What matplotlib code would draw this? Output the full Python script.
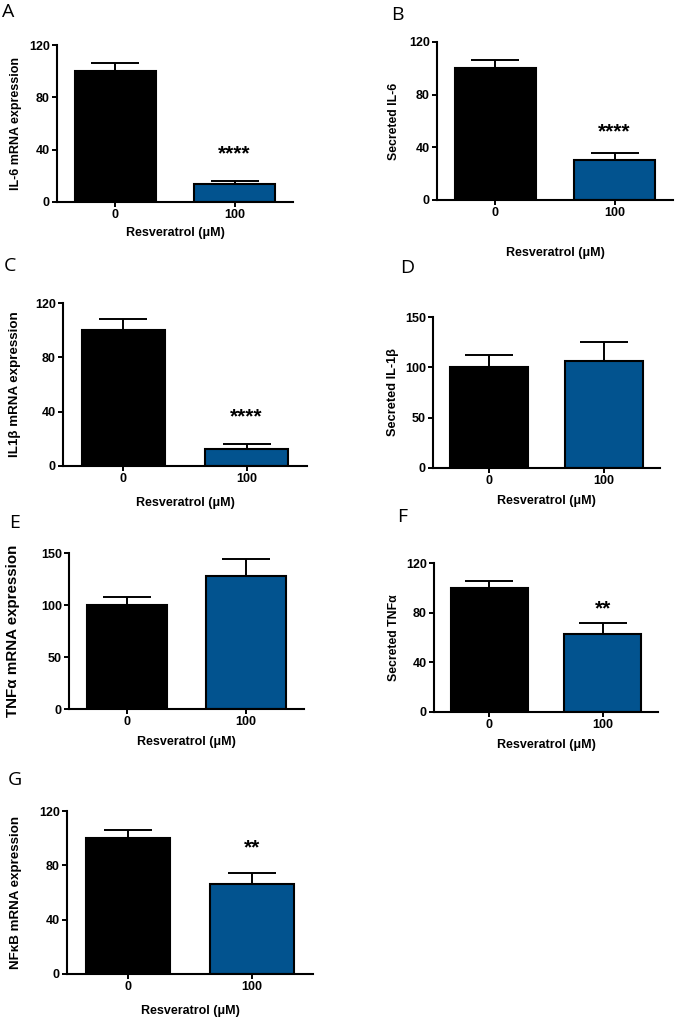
import matplotlib.pyplot as plt

# ------------------------------------------------------------
# Resveratrol effect on cytokine expression / secretion
# seven bar panels, GraphPad-like style
# ------------------------------------------------------------

plt.rcParams["font.family"] = ["Liberation Sans", "DejaVu Sans"]

FIG_W, FIG_H = 675, 1017

DOSES = ["0", "100"]
BAR_COLORS = ["#000000", "#02538f"]

PANEL_LETTERS = ["A", "B", "C", "D", "E", "F", "G"]
Y_LABELS = [
    "IL-6 mRNA expression",
    "Secreted IL-6",
    "IL1β mRNA expression",
    "Secreted IL-1β",
    "TNFα mRNA expression",
    "Secreted TNFα",
    "NFκB mRNA expression",
]
MEANS = [
    [100, 13.5],
    [100, 30.5],
    [100, 12.5],
    [100, 106],
    [100, 127.5],
    [100, 63],
    [100, 66.5],
]
ERRORS = [
    [6, 2.5],
    [6, 5.5],
    [8.5, 3.5],
    [12, 19],
    [7.5, 17],
    [5.5, 8.5],
    [6, 8],
]
Y_MAX = [120, 120, 120, 150, 150, 120, 120]
Y_TICKS = [
    [0, 40, 80, 120],
    [0, 40, 80, 120],
    [0, 40, 80, 120],
    [0, 50, 100, 150],
    [0, 50, 100, 150],
    [0, 40, 80, 120],
    [0, 40, 80, 120],
]
STARS = ["****", "****", "****", "", "", "**", "**"]
STAR_Y = [37, 52, 36, None, None, 83, 93]

# axes boxes in pixels: left, right, top, bottom(zero line)
BOXES = [
    (57, 293, 45, 202),
    (437, 673, 42, 200),
    (63, 307, 303, 466),
    (433, 660, 317, 468),
    (69, 304, 553, 709),
    (434, 658, 563, 712),
    (67, 313, 811, 974),
]
YLABEL_X = [-0.15, -0.158, -0.171, -0.151, -0.209, -0.153, -0.182]
YLABEL_SIZE = [9, 8.8, 9.6, 9.2, 10.9, 8.8, 9.6]
XLABEL_Y = [-0.159, -0.297, -0.189, -0.176, -0.171, -0.179, -0.19]
LETTER_POS = [(8, 12), (397, 15), (10, 266), (407, 268), (15, 523), (402, 517), (15, 780)]

fig = plt.figure(figsize=(FIG_W / 100, FIG_H / 100), dpi=100)

for i in range(len(PANEL_LETTERS)):
    left, right, top, bottom = BOXES[i]
    ax = fig.add_axes([
        left / FIG_W,
        1 - bottom / FIG_H,
        (right - left) / FIG_W,
        (bottom - top) / FIG_H,
    ])

    x = [0, 1]
    ax.bar(x, MEANS[i], width=0.675, color=BAR_COLORS,
           edgecolor="black", linewidth=1.5, zorder=2)
    ax.errorbar(x, MEANS[i], yerr=[[0, 0], ERRORS[i]], fmt="none",
                ecolor="black", elinewidth=1.4, capsize=17, capthick=1.4,
                zorder=1)

    if STARS[i]:
        ax.text(1, STAR_Y[i], STARS[i], ha="center", va="center",
                fontsize=15, fontweight="bold")

    ax.set_xlim(-0.49, 1.49)
    ax.set_ylim(0, Y_MAX[i])
    ax.set_xticks(x)
    ax.set_xticklabels(DOSES)
    ax.set_yticks(Y_TICKS[i])

    for side in ["top", "right"]:
        ax.spines[side].set_visible(False)
    for side in ["left", "bottom"]:
        ax.spines[side].set_linewidth(1.5)

    ax.tick_params(direction="out", length=3.6, width=1.4, pad=1.5,
                   labelsize=9)
    for lbl in ax.get_xticklabels() + ax.get_yticklabels():
        lbl.set_fontweight("bold")

    ax.set_ylabel(Y_LABELS[i], fontsize=YLABEL_SIZE[i], fontweight="bold")
    ax.yaxis.set_label_coords(YLABEL_X[i], 0.5)
    ax.set_xlabel("Resveratrol (μM)", fontsize=9, fontweight="bold")
    ax.xaxis.set_label_coords(0.5, XLABEL_Y[i])

    lx, ly = LETTER_POS[i]
    fig.text(lx / FIG_W, 1 - ly / FIG_H, PANEL_LETTERS[i],
             family="Open Sans", fontsize=14, ha="center", va="center")

fig.savefig("out.png", dpi=100)
